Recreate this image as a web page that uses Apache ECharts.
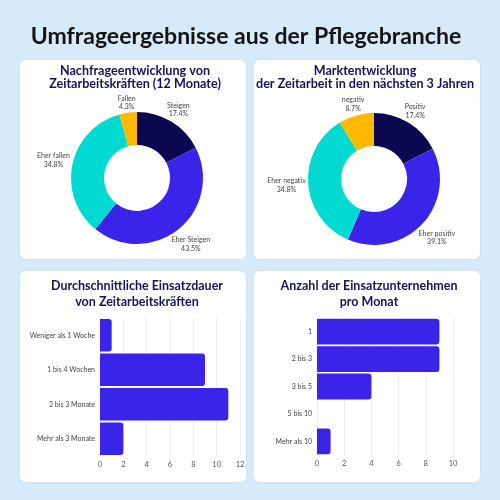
<!DOCTYPE html>
<html><head><meta charset="utf-8">
<script src="https://cdn.jsdelivr.net/npm/echarts@6/dist/echarts.min.js"></script>
<style>html,body{margin:0;padding:0;background:#d7eaf9;}#c{width:500px;height:500px;}</style>
</head><body><div id="c"></div>
<script>
const pie1Names = ['Steigen', 'Eher Steigen', 'Eher fallen', 'Fallen'];
const pie1Values = [17.4, 43.5, 34.8, 4.3];
const pie2Names = ['Positiv', 'Eher positiv', 'Eher negativ', 'negativ'];
const pie2Values = [17.4, 39.1, 34.8, 8.7];
const pieColors = ['#0b0852', '#3a24ea', '#00dad3', '#ffb800'];

const dauerCats = ['Weniger als 1 Woche', '1 bis 4 Wochen', '2 bis 3 Monate', 'Mehr als 3 Monate'];
const dauerValues = [1, 9, 11, 2];
const anzahlCats = ['1', '2 bis 3', '3 bis 5', '5 bis 10', 'Mehr als 10'];
const anzahlValues = [9, 9, 4, 0, 1];

const chart = echarts.init(document.getElementById('c'), null, {renderer: 'canvas'});
const FONT = 'Lato, "Noto Sans", sans-serif';
const navy = '#15135c';
const barBlue = '#3a24ea';

function pieLabelLayout(params) {
  try {
    const lay = chart.getModel().getSeriesByIndex(params.seriesIndex).getData().getItemLayout(params.dataIndex);
    const mid = (lay.startAngle + lay.endAngle) / 2;
    const dx = Math.cos(mid), dy = Math.sin(mid);
    const gap = 2;
    const w = params.labelRect.width / 2, h = params.labelRect.height / 2 - 1;
    const dist = lay.r + gap + Math.abs(dx) * w + Math.abs(dy) * h;
    return {x: lay.cx + dist * dx, y: lay.cy + dist * dy, align: 'center', verticalAlign: 'middle'};
  } catch (e) { return {}; }
}

function pieSeries(names, values, center) {
  return {
    type: 'pie', center: center, radius: [33, 66], startAngle: 90, clockwise: true,
    avoidLabelOverlap: false,
    data: names.map((n, i) => ({name: n, value: values[i], itemStyle: {color: pieColors[i]}})),
    label: {show: true, position: 'outside', formatter: '{t|{b}}\n{t|{c}%}',
      rich: {t: {fontSize: 7, color: '#444', fontFamily: FONT, align: 'center', lineHeight: 8.5}}},
    labelLine: {show: false, length: 4, length2: 0},
    labelLayout: pieLabelLayout,
    emphasis: {disabled: true}, silent: true, animation: false
  };
}

function panel(x, y, w, h) {
  return {type: 'rect', shape: {x: x, y: y, width: w, height: h, r: 6}, style: {fill: '#ffffff', shadowBlur: 3, shadowColor: 'rgba(0,0,0,0.06)'}, z: -10, silent: true};
}

function valueAxis(gi, max) {
  return {type: 'value', gridIndex: gi, min: 0, max: max, interval: 2,
    axisLine: {show: false}, axisTick: {show: false},
    axisLabel: {fontSize: 7.5, color: '#555', fontFamily: FONT, margin: 5},
    splitLine: {show: true, lineStyle: {color: '#ececec', width: 1}}};
}
function catAxis(gi, cats) {
  return {type: 'category', gridIndex: gi, data: cats, inverse: true,
    axisLine: {show: false}, axisTick: {show: false},
    axisLabel: {fontSize: 7, color: '#444', fontFamily: FONT, margin: 5},
    splitLine: {show: false}};
}

const panelTitle = (text, x, top, fs, lh) => ({text: text, left: x, top: top, textAlign: 'center', padding: 0,
  textStyle: {fontSize: fs, fontWeight: 'bold', color: navy, fontFamily: FONT, lineHeight: lh}});

chart.setOption({
  backgroundColor: '#d7eaf9',
  animation: false,
  graphic: [panel(20, 60, 226, 199), panel(254, 60, 226, 199), panel(20, 271, 226, 211), panel(254, 271, 226, 211)],
  title: [
    {text: 'Umfrageergebnisse aus der Pflegebranche', left: 246, top: 25, textAlign: 'center', padding: 0,
      textStyle: {fontSize: 23, fontWeight: 'bold', color: '#141414', fontFamily: FONT}},
    panelTitle('Nachfrageentwicklung von\nZeitarbeitskräften (12 Monate)', 135, 64, 12.6, 13.5),
    panelTitle('Marktentwicklung\nder Zeitarbeit in den nächsten 3 Jahren', 365, 64, 12.6, 13.5),
    panelTitle('Durchschnittliche Einsatzdauer\nvon Zeitarbeitskräften', 137, 278, 12.5, 16),
    panelTitle('Anzahl der Einsatzunternehmen\npro Monat', 369, 278, 12.5, 16)
  ],
  grid: [
    {left: 100, right: 260, top: 318, bottom: 44},
    {left: 317, right: 47, top: 318, bottom: 45}
  ],
  xAxis: [valueAxis(0, 12), valueAxis(1, 10)],
  yAxis: [catAxis(0, dauerCats), catAxis(1, anzahlCats)],
  series: [
    pieSeries(pie1Names, pie1Values, [137, 178]),
    pieSeries(pie2Names, pie2Values, [374, 179]),
    {type: 'bar', xAxisIndex: 0, yAxisIndex: 0, data: dauerValues, barCategoryGap: '6%',
      itemStyle: {color: barBlue, borderRadius: [0, 3, 3, 0]}, silent: true},
    {type: 'bar', xAxisIndex: 1, yAxisIndex: 1, data: anzahlValues, barCategoryGap: '6%',
      itemStyle: {color: barBlue, borderRadius: [0, 3, 3, 0]}, silent: true}
  ]
});
</script></body></html>
